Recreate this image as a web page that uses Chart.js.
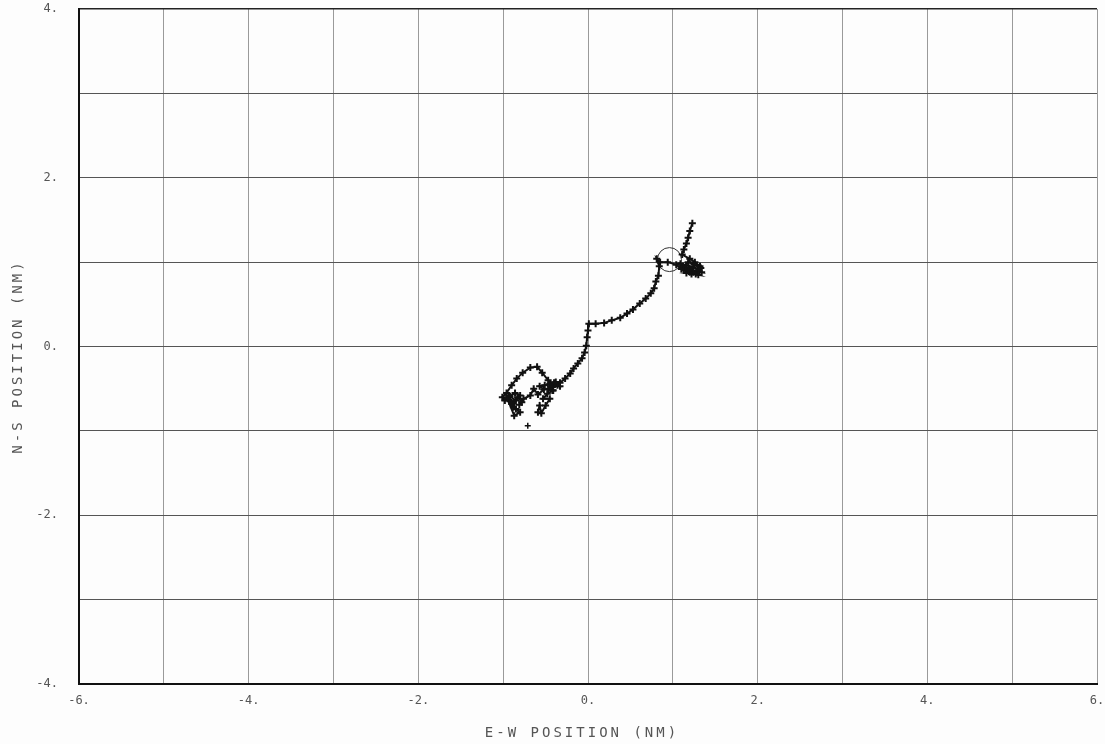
<!DOCTYPE html>
<html>
<head>
<meta charset="utf-8">
<script src="https://cdn.jsdelivr.net/npm/chart.js@4/dist/chart.umd.min.js"></script>
<style>
  html, body { margin: 0; padding: 0; background: #fdfdfd; }
  #wrap { width: 1105px; height: 744px; }
</style>
</head>
<body>
<div id="wrap"><canvas id="track"></canvas></div>
<script>
// ship track, E-W / N-S position in nautical miles
const trackX = [1.23, 1.20, 1.18, 1.16, 1.13, 1.11, 1.20, 1.26, 1.32, 1.29, 1.20, 1.13, 1.09, 1.16, 1.24, 1.34,
  1.15, 1.22, 1.28, 1.33, 1.25, 1.18, 1.12, 1.20, 1.27, 1.31, 1.24, 1.16,
  1.30, 1.18, 1.10, 1.04, 0.94, 0.85, 0.81, 0.84, 0.83, 0.80, 0.78, 0.74, 0.68, 0.61, 0.53, 0.46, 0.38, 0.28,
  0.19, 0.09, 0.01, 0.00, -0.01, -0.02, -0.04, -0.07, -0.12, -0.17, -0.21, -0.27, -0.33, -0.39, -0.47, -0.54,
  -0.60, -0.68, -0.77, -0.84, -0.90, -0.96, -1.01, -0.98, -0.92, -0.86, -0.80, -0.90, -0.85, -0.80, -0.87,
  -0.95, -0.90, -0.85, -0.93, -0.88, -0.83, -0.78,
  -0.81, -0.76, -0.68, -0.64, -0.59, -0.52, -0.57, -0.51, -0.45, -0.38, -0.33,
  -0.44, -0.40, -0.36, -0.47, -0.42,
  -0.41, -0.48, -0.53, -0.45, -0.50, -0.55, -0.57, -0.59];
const trackY = [1.46, 1.37, 1.29, 1.22, 1.15, 1.09, 1.04, 1.00, 0.95, 0.90, 0.88, 0.92, 0.98, 0.96, 0.94, 0.88,
  0.90, 0.86, 0.89, 0.93, 0.97, 1.00, 0.95, 0.92, 0.86, 0.90, 0.88, 0.87,
  0.85, 0.90, 0.92, 0.97, 1.00, 1.00, 1.04, 0.95, 0.84, 0.77, 0.69, 0.63, 0.57, 0.51, 0.44, 0.39, 0.34, 0.31,
  0.28, 0.27, 0.27, 0.19, 0.11, 0.01, -0.07, -0.14, -0.20, -0.26, -0.32, -0.38, -0.43, -0.45, -0.40, -0.31,
  -0.24, -0.25, -0.31, -0.38, -0.46, -0.55, -0.60, -0.64, -0.59, -0.55, -0.58, -0.66, -0.74, -0.78, -0.82,
  -0.62, -0.68, -0.64, -0.58, -0.72, -0.60, -0.66,
  -0.69, -0.62, -0.58, -0.50, -0.57, -0.51, -0.47, -0.46, -0.44, -0.42, -0.47,
  -0.47, -0.43, -0.46, -0.50, -0.52,
  -0.52, -0.56, -0.62, -0.62, -0.70, -0.79, -0.70, -0.78];
const strayX = [-0.71];
const strayY = [-0.94];
const markX = [0.96];
const markY = [1.03];
const xTicks = [-6, -4, -2, 0, 2, 4, 6];
const yTicks = [-4, -2, 0, 2, 4];

function pts(xs, ys) {
  return xs.map((x, i) => ({ x: x, y: ys[i] }));
}

function tickLabel(list) {
  return function(value) {
    return list.includes(value) ? value.toFixed(0) + '.' : '';
  };
}

// axis titles are drawn by hand so the letters can be spaced like the plotter lettering
const axisTitles = {
  id: 'axisTitles',
  afterDraw(chart) {
    const ctx = chart.ctx;
    const area = chart.chartArea;
    ctx.save();
    ctx.fillStyle = '#555';
    ctx.font = '14px "DejaVu Sans Mono"';
    ctx.letterSpacing = '3px';
    ctx.textAlign = 'center';
    ctx.textBaseline = 'middle';
    ctx.fillText('E-W POSITION (NM)', (area.left + area.right) / 2 - 6, 733);
    ctx.translate(18, (area.top + area.bottom) / 2 + 10);
    ctx.rotate(-Math.PI / 2);
    ctx.fillText('N-S POSITION (NM)', 0, 0);
    ctx.restore();
  }
};

const tickFont = { family: '"DejaVu Sans Mono"', size: 12 };

document.addEventListener('DOMContentLoaded', function() {
  const ctx = document.getElementById('track');
  new Chart(ctx, {
    type: 'scatter',
    data: {
      datasets: [{
        label: 'Track',
        data: pts(trackX, trackY),
        showLine: true,
        borderColor: '#111',
        borderWidth: 2,
        pointStyle: 'cross',
        pointRadius: 3.5,
        pointBorderWidth: 2,
        pointBorderColor: '#111'
      }, {
        label: 'Stray',
        data: pts(strayX, strayY),
        pointStyle: 'cross',
        pointRadius: 3,
        pointBorderWidth: 1.5,
        pointBorderColor: '#111'
      }, {
        label: 'Start',
        data: pts(markX, markY),
        pointStyle: 'circle',
        pointRadius: 12,
        pointBorderWidth: 1,
        pointBorderColor: '#333',
        pointBackgroundColor: 'rgba(0,0,0,0)'
      }]
    },
    options: {
      responsive: true,
      maintainAspectRatio: false,
      animation: false,
      layout: { autoPadding: false, padding: { left: 0, top: 9, right: 8, bottom: 0 } },
      plugins: {
        legend: { display: false },
        tooltip: { enabled: false }
      },
      scales: {
        x: {
          type: 'linear',
          min: -6,
          max: 6,
          afterFit: function(axis) {
            axis.height = 60;
            axis.paddingLeft = 0;
            axis.paddingRight = 0;
          },
          ticks: { stepSize: 1, autoSkip: false, maxRotation: 0, padding: 10, color: '#555', font: tickFont, callback: tickLabel(xTicks) },
          grid: { color: '#9a9a9a', lineWidth: 1, drawTicks: false },
          border: { color: '#111', width: 2 }
        },
        y: {
          type: 'linear',
          min: -4,
          max: 4,
          afterFit: function(axis) {
            axis.width = 79;
            axis.paddingTop = 0;
            axis.paddingBottom = 0;
          },
          ticks: { stepSize: 1, autoSkip: false, padding: 21, color: '#555', font: tickFont, callback: tickLabel(yTicks) },
          grid: {
            color: function(c) { return c.tick && c.tick.value === 4 ? '#222' : '#555'; },
            lineWidth: function(c) { return c.tick && c.tick.value === 4 ? 1.5 : 1; },
            drawTicks: false
          },
          border: { color: '#111', width: 2 }
        }
      }
    },
    plugins: [axisTitles]
  });
});
</script>
</body>
</html>
